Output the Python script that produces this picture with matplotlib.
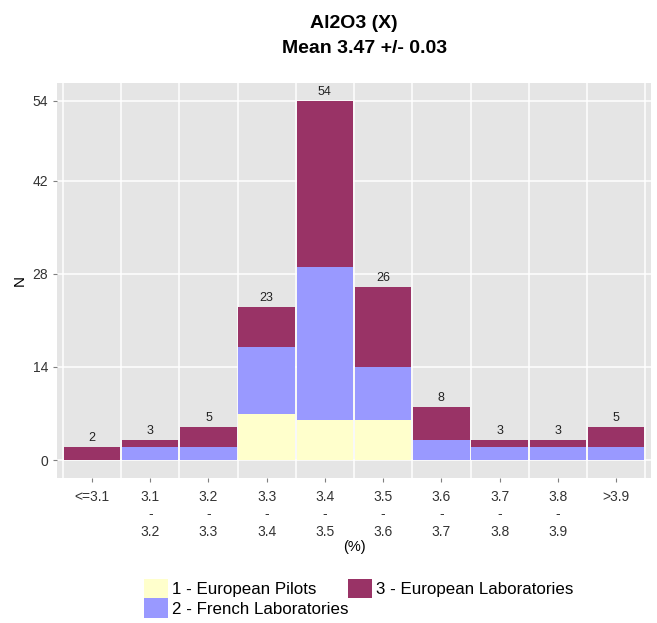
import numpy as np
import matplotlib
matplotlib.use("Agg")
from matplotlib import pyplot as plt
from matplotlib.patches import Patch

plt.rcParams['font.family'] = ['Liberation Sans', 'DejaVu Sans']

# bins of Al2O3 (%) and counts per group
categories = ["<=3.1", "3.1\n-\n3.2", "3.2\n-\n3.3", "3.3\n-\n3.4", "3.4\n-\n3.5",
              "3.5\n-\n3.6", "3.6\n-\n3.7", "3.7\n-\n3.8", "3.8\n-\n3.9", ">3.9"]
pilots = [0, 0, 0, 7, 6, 6, 0, 0, 0, 0]
french = [0, 2, 2, 10, 23, 8, 3, 2, 2, 2]
european = [2, 1, 3, 6, 25, 12, 5, 1, 1, 3]
group_names = ["1 - European Pilots", "2 - French Laboratories", "3 - European Laboratories"]
group_colors = ["#FFFFCC", "#9999FF", "#993366"]
y_ticks = [0, 14, 28, 42, 54]

fig = plt.figure(figsize=(6.57, 6.23), dpi=100)
ax = fig.add_axes([0.0868, 0.2327, 0.9042, 0.6341])
ax.set_facecolor("#E5E5E5")

x = np.arange(1, len(categories) + 1)
bottom = np.zeros(len(categories))
for vals, col in zip([pilots, french, european], group_colors):
    ax.bar(x, vals, width=0.97, bottom=bottom, color=col, zorder=2, linewidth=0)
    bottom += np.array(vals)

totals = bottom
for xi, t in zip(x, totals):
    ax.text(xi, t + 0.45, "%d" % t, ha="center", va="bottom", fontsize=9, color="#222222")

# grid lines
for yt in y_ticks:
    ax.axhline(yt, color="white", lw=1.1, zorder=1)
for xb in np.arange(0.5, len(categories) + 1, 1.0):
    ax.axvline(xb, color="white", lw=1.1, zorder=1)

ax.set_xlim(0.4, 10.6)
ax.set_ylim(-2.7, 56.7)
ax.set_yticks(y_ticks)
ax.set_yticklabels([str(v) for v in y_ticks], fontsize=10, color="#333333")
ax.set_xticks(x)
ax.set_xticklabels(categories, fontsize=10, color="#333333", linespacing=1.33)
ax.tick_params(axis="both", length=3, color="#7F7F7F", width=0.8)
ax.tick_params(axis="x", pad=5.5)
for s in ax.spines.values():
    s.set_visible(False)

ax.set_ylabel("N", fontsize=11, labelpad=4)
ax.set_xlabel("(%)", fontsize=10.5, labelpad=1)

fig.text(0.539, 0.963, "Al2O3 (X)", ha="center", va="center", fontsize=14, fontweight="bold")
fig.text(0.555, 0.922, "Mean 3.47 +/- 0.03", ha="center", va="center", fontsize=14, fontweight="bold")

handles = [Patch(facecolor=c, edgecolor="none") for c in group_colors]
fig.legend(handles, group_names, ncol=2, loc="upper center", bbox_to_anchor=(0.546, 0.085),
           frameon=False, fontsize=12.2, handlelength=1.4, handleheight=1.4,
           labelspacing=0.0, columnspacing=0.0, handletextpad=0.25, borderpad=0)

fig.savefig("out.png", dpi=100)
